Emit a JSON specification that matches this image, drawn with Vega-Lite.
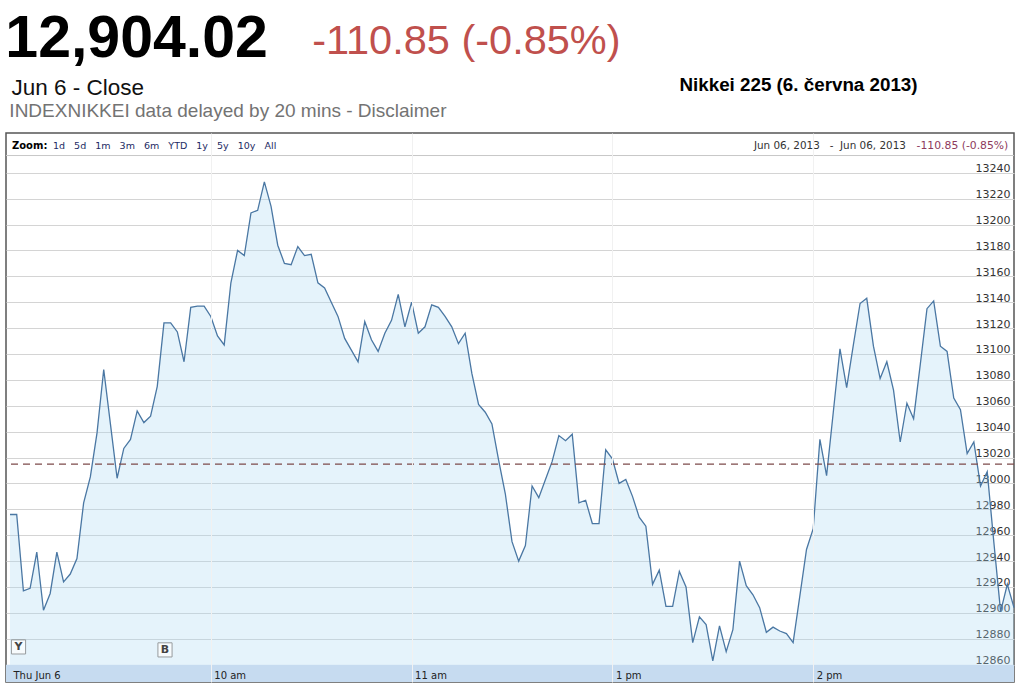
{
  "$schema": "https://vega.github.io/schema/vega-lite/v6.json",
  "width": 1008,
  "height": 549,
  "autosize": "none",
  "padding": {"left": 6, "top": 133, "right": 2, "bottom": 1},
  "background": "white",
  "config": {"view": {"stroke": "#555555", "strokeWidth": 1.5}},
  "resolve": {"axis": {"x": "independent", "y": "independent"}},
  "datasets": {
    "series": [
      {"minute": 0, "value": 12976}, {"minute": 2, "value": 12976}, {"minute": 4, "value": 12917}, {"minute": 6, "value": 12919},
      {"minute": 8, "value": 12947}, {"minute": 10, "value": 12902}, {"minute": 12, "value": 12915}, {"minute": 14, "value": 12947},
      {"minute": 16, "value": 12924}, {"minute": 18, "value": 12930}, {"minute": 20, "value": 12942}, {"minute": 22, "value": 12985},
      {"minute": 24, "value": 13005}, {"minute": 26, "value": 13039}, {"minute": 28, "value": 13088}, {"minute": 30, "value": 13046},
      {"minute": 32, "value": 13004}, {"minute": 34, "value": 13027}, {"minute": 36, "value": 13034}, {"minute": 38, "value": 13056},
      {"minute": 40, "value": 13047}, {"minute": 42, "value": 13052}, {"minute": 44, "value": 13075}, {"minute": 46, "value": 13124},
      {"minute": 48, "value": 13124}, {"minute": 50, "value": 13117}, {"minute": 52, "value": 13094}, {"minute": 54, "value": 13136},
      {"minute": 56, "value": 13137}, {"minute": 58, "value": 13137}, {"minute": 60, "value": 13129}, {"minute": 62, "value": 13114},
      {"minute": 64, "value": 13107}, {"minute": 66, "value": 13155}, {"minute": 68, "value": 13180}, {"minute": 70, "value": 13176},
      {"minute": 72, "value": 13209}, {"minute": 74, "value": 13211}, {"minute": 76, "value": 13233}, {"minute": 78, "value": 13214},
      {"minute": 80, "value": 13184}, {"minute": 82, "value": 13170}, {"minute": 84, "value": 13169}, {"minute": 86, "value": 13183},
      {"minute": 88, "value": 13176}, {"minute": 90, "value": 13177}, {"minute": 92, "value": 13155}, {"minute": 94, "value": 13151},
      {"minute": 96, "value": 13140}, {"minute": 98, "value": 13129}, {"minute": 100, "value": 13112}, {"minute": 102, "value": 13103},
      {"minute": 104, "value": 13094}, {"minute": 106, "value": 13125}, {"minute": 108, "value": 13111}, {"minute": 110, "value": 13102},
      {"minute": 112, "value": 13116}, {"minute": 114, "value": 13126}, {"minute": 116, "value": 13146}, {"minute": 118, "value": 13121},
      {"minute": 120, "value": 13140}, {"minute": 122, "value": 13116}, {"minute": 124, "value": 13121}, {"minute": 126, "value": 13138},
      {"minute": 128, "value": 13136}, {"minute": 130, "value": 13129}, {"minute": 132, "value": 13121}, {"minute": 134, "value": 13108},
      {"minute": 136, "value": 13116}, {"minute": 138, "value": 13085}, {"minute": 140, "value": 13061}, {"minute": 142, "value": 13055},
      {"minute": 144, "value": 13046}, {"minute": 146, "value": 13018}, {"minute": 148, "value": 12992}, {"minute": 150, "value": 12955},
      {"minute": 152, "value": 12940}, {"minute": 154, "value": 12952}, {"minute": 156, "value": 12998}, {"minute": 158, "value": 12989},
      {"minute": 160, "value": 13003}, {"minute": 162, "value": 13017}, {"minute": 164, "value": 13037}, {"minute": 166, "value": 13033},
      {"minute": 168, "value": 13038}, {"minute": 170, "value": 12985}, {"minute": 172, "value": 12987}, {"minute": 174, "value": 12969},
      {"minute": 176, "value": 12969}, {"minute": 178, "value": 13026}, {"minute": 180, "value": 13019}, {"minute": 182, "value": 13000},
      {"minute": 184, "value": 13003}, {"minute": 186, "value": 12990}, {"minute": 188, "value": 12974}, {"minute": 190, "value": 12967},
      {"minute": 192, "value": 12922}, {"minute": 194, "value": 12933}, {"minute": 196, "value": 12905}, {"minute": 198, "value": 12905},
      {"minute": 200, "value": 12932}, {"minute": 202, "value": 12920}, {"minute": 204, "value": 12877}, {"minute": 206, "value": 12897},
      {"minute": 208, "value": 12891}, {"minute": 210, "value": 12863}, {"minute": 212, "value": 12890}, {"minute": 214, "value": 12870},
      {"minute": 216, "value": 12887}, {"minute": 218, "value": 12940}, {"minute": 220, "value": 12921}, {"minute": 222, "value": 12914},
      {"minute": 224, "value": 12904}, {"minute": 226, "value": 12885}, {"minute": 228, "value": 12889}, {"minute": 230, "value": 12886},
      {"minute": 232, "value": 12884}, {"minute": 234, "value": 12877}, {"minute": 236, "value": 12913}, {"minute": 238, "value": 12949},
      {"minute": 240, "value": 12965}, {"minute": 242, "value": 13034}, {"minute": 244, "value": 13006}, {"minute": 246, "value": 13055},
      {"minute": 248, "value": 13104}, {"minute": 250, "value": 13074}, {"minute": 252, "value": 13107}, {"minute": 254, "value": 13139},
      {"minute": 256, "value": 13143}, {"minute": 258, "value": 13106}, {"minute": 260, "value": 13081}, {"minute": 262, "value": 13094},
      {"minute": 264, "value": 13072}, {"minute": 266, "value": 13032}, {"minute": 268, "value": 13062}, {"minute": 270, "value": 13050},
      {"minute": 272, "value": 13092}, {"minute": 274, "value": 13135}, {"minute": 276, "value": 13141}, {"minute": 278, "value": 13106},
      {"minute": 280, "value": 13102}, {"minute": 282, "value": 13066}, {"minute": 284, "value": 13057}, {"minute": 286, "value": 13023},
      {"minute": 288, "value": 13032}, {"minute": 290, "value": 12998}, {"minute": 292, "value": 13009}, {"minute": 294, "value": 12954},
      {"minute": 296, "value": 12901}, {"minute": 298, "value": 12922}, {"minute": 300, "value": 12904.02}
    ]
  },
  "data": {"name": "series"},
  "layer": [
    {
      "data": {"values": [{}]},
      "mark": {"type": "rect", "fill": "#c6dbf0"},
      "encoding": {
        "y": {"datum": 12846.6, "type": "quantitative", "axis": null},
        "y2": {"datum": 12860}
      }
    },
    {
      "data": {"values": [{}]},
      "mark": {"type": "rule", "stroke": "#c8c8c8", "strokeWidth": 1},
      "encoding": {
        "y": {"datum": 13253.3, "type": "quantitative", "axis": null}
      }
    },
    {
      "mark": {"type": "area", "fill": "#a9d6f2", "fillOpacity": 0.3},
      "encoding": {
        "x": {
          "field": "minute", "type": "quantitative",
          "scale": {"domain": [-1.2, 300], "nice": false, "zero": false},
          "axis": {
            "orient": "bottom", "title": null, "values": [0, 60, 120, 180, 240],
            "labelExpr": "datum.value == 0 ? 'Thu Jun 6' : datum.value == 60 ? '10 am' : datum.value == 120 ? '11 am' : datum.value == 180 ? '1 pm' : '2 pm'",
            "labelAlign": "left", "labelBaseline": "alphabetic", "labelPadding": -4, "labelOffset": 3,
            "ticks": false, "tickSize": 0, "domain": false, "zindex": 1,
            "grid": true, "gridColor": {"condition": {"test": "datum.value == 0", "value": "transparent"}, "value": "#f1f1f1"},
            "labelFont": "DejaVu Sans", "labelFontSize": 10, "labelColor": "#222222",
            "labelFlush": false, "labelOverlap": false, "labelBound": false
          }
        },
        "y": {
          "field": "value", "type": "quantitative",
          "scale": {"domain": [12846.6, 13270.7], "nice": false, "zero": false},
          "axis": {
            "orient": "right", "title": null, "format": "d",
            "values": [12860, 12880, 12900, 12920, 12940, 12960, 12980, 13000, 13020, 13040, 13060, 13080, 13100, 13120, 13140, 13160, 13180, 13200, 13220, 13240],
            "labelAlign": "right", "labelBaseline": "alphabetic", "labelPadding": -4, "labelOffset": -1,
            "ticks": false, "tickSize": 0, "domain": false,
            "grid": true, "gridColor": "#d4d4d4", "gridWidth": 1.2,
            "labelFont": "DejaVu Sans", "labelFontSize": 11, "labelColor": "#333333",
            "labelFlush": false, "labelOverlap": false, "labelBound": false
          }
        },
        "y2": {"datum": 12860}
      }
    },
    {
      "mark": {"type": "line", "stroke": "#4a77a3", "strokeWidth": 1.3},
      "encoding": {
        "x": {"field": "minute", "type": "quantitative", "axis": null},
        "y": {"field": "value", "type": "quantitative", "axis": null}
      }
    },
    {
      "data": {"values": [{"previous_close": 13014.87}]},
      "mark": {"type": "rule", "stroke": "#7d4b4b", "strokeWidth": 1.3, "strokeDash": [7, 5]},
      "encoding": {
        "y": {"field": "previous_close", "type": "quantitative", "axis": null}
      }
    },
    {
      "data": {"values": [{"flag": "Y"}]},
      "encoding": {
        "x": {"datum": 2.54, "type": "quantitative", "axis": null},
        "y": {"datum": 12873.7, "type": "quantitative", "axis": null}
      },
      "layer": [
        {"mark": {"type": "square", "size": 200, "filled": true, "fill": "white", "stroke": "#777777", "strokeWidth": 1}},
        {"mark": {"type": "text", "font": "DejaVu Sans", "fontSize": 11, "fontWeight": "bold", "fill": "#444444", "align": "center", "baseline": "middle"},
         "encoding": {"text": {"field": "flag"}}}
      ]
    },
    {
      "data": {"values": [{"flag": "B"}]},
      "encoding": {
        "x": {"datum": 46.31, "type": "quantitative", "axis": null},
        "y": {"datum": 12871.4, "type": "quantitative", "axis": null}
      },
      "layer": [
        {"mark": {"type": "square", "size": 200, "filled": true, "fill": "white", "stroke": "#777777", "strokeWidth": 1}},
        {"mark": {"type": "text", "font": "DejaVu Sans", "fontSize": 11, "fontWeight": "bold", "fill": "#444444", "align": "center", "baseline": "middle"},
         "encoding": {"text": {"field": "flag"}}}
      ]
    },
    {
      "data": {"values": [{"label": "12,904.02"}]},
      "mark": {"type": "text", "align": "left", "baseline": "alphabetic", "font": "Liberation Sans", "fontSize": 59, "fontWeight": "bold", "fill": "#000000"},
      "encoding": {
        "x": {"datum": -1.4, "type": "quantitative", "axis": null},
        "y": {"datum": 13329.2, "type": "quantitative", "axis": null},
        "text": {"field": "label"}
      }
    },
    {
      "data": {"values": [{"label": "-110.85 (-0.85%)"}]},
      "mark": {"type": "text", "align": "left", "baseline": "alphabetic", "font": "Liberation Sans", "fontSize": 41.5, "fill": "#c0504d"},
      "encoding": {
        "x": {"datum": 90.3, "type": "quantitative", "axis": null},
        "y": {"datum": 13331.7, "type": "quantitative", "axis": null},
        "text": {"field": "label"}
      }
    },
    {
      "data": {"values": [{"label": "Jun 6 - Close"}]},
      "mark": {"type": "text", "align": "left", "baseline": "alphabetic", "font": "Liberation Sans", "fontSize": 22.5, "fill": "#111111"},
      "encoding": {
        "x": {"datum": 0.45, "type": "quantitative", "axis": null},
        "y": {"datum": 13300.05, "type": "quantitative", "axis": null},
        "text": {"field": "label"}
      }
    },
    {
      "data": {"values": [{"label": "INDEXNIKKEI data delayed by 20 mins - Disclaimer"}]},
      "mark": {"type": "text", "align": "left", "baseline": "alphabetic", "font": "Liberation Sans", "fontSize": 19, "fill": "#737373"},
      "encoding": {
        "x": {"datum": -0.2, "type": "quantitative", "axis": null},
        "y": {"datum": 13283.3, "type": "quantitative", "axis": null},
        "text": {"field": "label"}
      }
    },
    {
      "data": {"values": [{"label": "Nikkei 225 (6. června 2013)"}]},
      "mark": {"type": "text", "align": "left", "baseline": "alphabetic", "font": "Liberation Sans", "fontSize": 18.8, "fontWeight": "bold", "fill": "#000000"},
      "encoding": {
        "x": {"datum": 200.05, "type": "quantitative", "axis": null},
        "y": {"datum": 13303.4, "type": "quantitative", "axis": null},
        "text": {"field": "label"}
      }
    },
    {
      "data": {"values": [{"label": "Zoom:"}]},
      "mark": {"type": "text", "align": "left", "baseline": "alphabetic", "font": "DejaVu Sans", "fontSize": 10, "fontWeight": "bold", "fill": "#000000"},
      "encoding": {
        "x": {"datum": 0.59, "type": "quantitative", "axis": null},
        "y": {"datum": 13258.7, "type": "quantitative", "axis": null},
        "text": {"field": "label"}
      }
    },
    {
      "data": {"values": [{"label": "1d\u00a0\u00a0\u00a05d\u00a0\u00a0\u00a01m\u00a0\u00a0\u00a03m\u00a0\u00a0\u00a06m\u00a0\u00a0\u00a0YTD\u00a0\u00a0\u00a01y\u00a0\u00a0\u00a05y\u00a0\u00a0\u00a010y\u00a0\u00a0\u00a0All"}]},
      "mark": {"type": "text", "align": "left", "baseline": "alphabetic", "font": "DejaVu Sans", "fontSize": 9.5, "fill": "#1c2a63"},
      "encoding": {
        "x": {"datum": 12.84, "type": "quantitative", "axis": null},
        "y": {"datum": 13258.7, "type": "quantitative", "axis": null},
        "text": {"field": "label"}
      }
    },
    {
      "data": {"values": [{"label": "Jun 06, 2013\u00a0\u00a0\u00a0-\u00a0\u00a0Jun 06, 2013"}]},
      "mark": {"type": "text", "align": "left", "baseline": "alphabetic", "font": "DejaVu Sans", "fontSize": 10.4, "fill": "#333333"},
      "encoding": {
        "x": {"datum": 222.3, "type": "quantitative", "axis": null},
        "y": {"datum": 13258.7, "type": "quantitative", "axis": null},
        "text": {"field": "label"}
      }
    },
    {
      "data": {"values": [{"label": "-110.85 (-0.85%)"}]},
      "mark": {"type": "text", "align": "right", "baseline": "alphabetic", "font": "DejaVu Sans", "fontSize": 10.8, "fill": "#8e3a5c"},
      "encoding": {
        "x": {"datum": 298.3, "type": "quantitative", "axis": null},
        "y": {"datum": 13258.7, "type": "quantitative", "axis": null},
        "text": {"field": "label"}
      }
    }
  ]
}
